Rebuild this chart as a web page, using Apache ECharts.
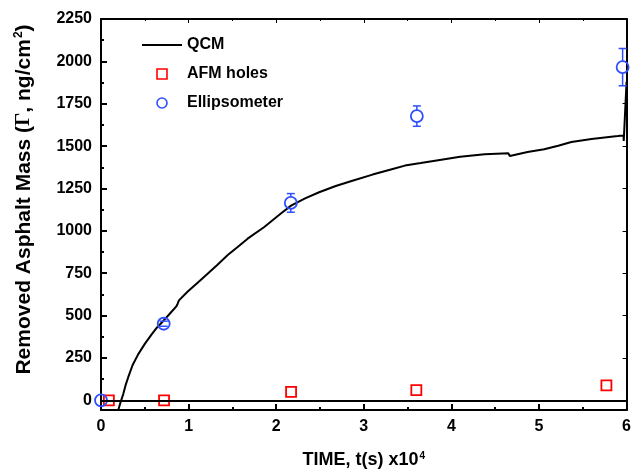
<!DOCTYPE html>
<html>
<head>
<meta charset="utf-8">
<script src="https://cdn.jsdelivr.net/npm/echarts@6/dist/echarts.min.js"></script>
<style>html,body{margin:0;padding:0;background:#fff}#c{width:634px;height:474px}</style>
</head>
<body>
<div id="c"></div>
<script>
// ---- data (time in units of 1e4 s, mass in ng/cm^2) ----
const qcmTime = [0.197, 0.225, 0.254, 0.28, 0.31, 0.36, 0.424, 0.5, 0.576, 0.64, 0.708, 0.78, 0.86, 0.875, 0.89, 0.99, 1.1, 1.22, 1.33, 1.447, 1.56, 1.674, 1.864, 2.05, 2.17, 2.33, 2.49, 2.68, 2.87, 3.1, 3.32, 3.47, 3.65, 3.85, 4.1, 4.38, 4.65, 4.667, 4.68, 4.87, 5.06, 5.22, 5.37, 5.6, 5.90, 5.966, 5.968, 6.0];
const qcmMass = [-57, -8, 37, 88, 135, 207, 271, 333, 388, 430, 467, 508, 554, 570, 590, 642, 693, 749, 800, 857, 905, 954, 1023, 1101, 1149, 1192, 1228, 1265, 1296, 1332, 1364, 1385, 1400, 1417, 1437, 1452, 1458, 1442, 1445, 1465, 1481, 1502, 1524, 1542, 1559, 1563, 1530, 1880];

const afmTime = [0.09, 0.72, 2.17, 3.6, 5.77];
const afmMass = [0, 0, 50, 60, 88];

const ellTime = [0, 0.716, 2.167, 3.606, 5.955];
const ellMass = [0, 452, 1165, 1677, 1966];
const ellErr = [0, 15, 55, 60, 110];

const yMajorTicks = [0, 250, 500, 750, 1000, 1250, 1500, 1750, 2000, 2250];
const yMinorTicks = [125, 375, 625, 875, 1125, 1375, 1625, 1875, 2125];

// ---- build ----
const BLUE = '#2f4fff', RED = '#ff0000';
const FONT = '"Liberation Sans", Arial, sans-serif';
const qcmData = qcmTime.map((t, i) => [t, qcmMass[i]]);
const afmData = afmTime.map((t, i) => [t, afmMass[i]]);
const ellData = ellTime.map((t, i) => [t, ellMass[i]]);
const errData = ellTime.map((t, i) => [t, ellMass[i], ellErr[i]]);
const Y_MIN = -57, Y_MAX = 2250;

const chart = echarts.init(document.getElementById('c'), null, {renderer: 'canvas'});
const axisLine = {show: true, onZero: false, lineStyle: {color: '#000', width: 2}};
chart.setOption({
  animation: false,
  backgroundColor: '#fff',
  grid: {left: 101, right: 4, top: 19, bottom: 61, containLabel: false},
  legend: {
    orient: 'vertical', left: 142, top: 37, padding: 0,
    itemWidth: 40, itemHeight: 10, itemGap: 13, symbolKeepAspect: true,
    textStyle: {fontFamily: FONT, fontWeight: 'bold', fontSize: 16, color: '#000'},
    data: [
      {name: 'QCM', icon: 'path://M0,0H40V2H0Z', itemStyle: {color: '#000', borderWidth: 0}},
      {name: 'AFM holes', icon: 'path://M0,0H10V10H0Z', itemStyle: {color: 'rgba(255,255,255,0)', borderColor: RED, borderWidth: 1.6}},
      {name: 'Ellipsometer', icon: 'circle', itemStyle: {color: 'rgba(255,255,255,0)', borderColor: BLUE, borderWidth: 1.6}}
    ]
  },
  xAxis: [{
    type: 'value', min: 0, max: 6, interval: 1, position: 'bottom',
    axisLine: axisLine,
    axisTick: {show: true, inside: true, length: 6, lineStyle: {color: '#000', width: 2}},
    minorTick: {show: true, splitNumber: 2, length: 3, lineStyle: {color: '#000', width: 2}},
    splitLine: {show: false}, minorSplitLine: {show: false},
    axisLabel: {fontFamily: FONT, fontWeight: 'bold', fontSize: 16, color: '#000', margin: 9},
    name: 'TIME, t(s) x10{s|4}', nameLocation: 'middle', nameGap: 41,
    nameTextStyle: {fontFamily: FONT, fontWeight: 'bold', fontSize: 18, color: '#000',
      rich: {s: {fontFamily: FONT, fontWeight: 'bold', fontSize: 10, color: '#000', verticalAlign: 'top', padding: [0, 0, 8, 1]}}}
  }, {
    type: 'value', min: 0, max: 6, interval: 1, position: 'top',
    axisLine: axisLine,
    axisTick: {show: true, inside: true, length: 4, lineStyle: {color: '#000', width: 1}},
    minorTick: {show: true, splitNumber: 2, length: 2, lineStyle: {color: '#000', width: 1}},
    splitLine: {show: false}, axisLabel: {show: false}
  }],
  yAxis: [{
    type: 'value', min: Y_MIN, max: Y_MAX, position: 'left',
    axisLine: axisLine,
    axisTick: {show: true, inside: true, length: 6, customValues: yMajorTicks, lineStyle: {color: '#000', width: 2}},
    splitLine: {show: false},
    axisLabel: {fontFamily: FONT, fontWeight: 'bold', fontSize: 16, color: '#000', margin: 9,
      customValues: yMajorTicks, formatter: v => String(Math.round(v))},
    name: 'Removed Asphalt Mass ({g|Γ}, ng/cm{s|2})', nameLocation: 'middle', nameGap: 66, nameRotate: 90,
    nameTextStyle: {fontFamily: FONT, fontWeight: 'bold', fontSize: 21, color: '#000', padding: [0, 0, 0, 30],
      rich: {
        g: {fontFamily: '"Liberation Serif", "DejaVu Serif", serif', fontSize: 21, color: '#000'},
        s: {fontFamily: FONT, fontWeight: 'bold', fontSize: 12, color: '#000', verticalAlign: 'top', padding: [0, 0, 10, 1]}
      }}
  }, {
    type: 'value', min: Y_MIN, max: Y_MAX, position: 'left',
    axisLine: {show: false, onZero: false},
    axisTick: {show: true, inside: true, length: 3, customValues: yMinorTicks, lineStyle: {color: '#000', width: 2}},
    splitLine: {show: false}, axisLabel: {show: false}
  }, {
    type: 'value', min: Y_MIN, max: Y_MAX, position: 'right',
    axisLine: axisLine,
    axisTick: {show: true, inside: true, length: 4, customValues: yMajorTicks, lineStyle: {color: '#000', width: 1}},
    splitLine: {show: false}, axisLabel: {show: false}
  }],
  series: [{
    name: 'QCM', type: 'line', data: qcmData, xAxisIndex: 0, yAxisIndex: 0,
    showSymbol: false, symbol: 'none', smooth: false, clip: true,
    lineStyle: {color: '#000', width: 2}, itemStyle: {color: '#000'},
    markLine: {silent: true, symbol: 'none', label: {show: false},
      lineStyle: {color: '#000', width: 2, type: 'solid'}, data: [{yAxis: 0}]},
    z: 3
  }, {
    name: 'AFM holes', type: 'scatter', data: afmData, xAxisIndex: 0, yAxisIndex: 0,
    symbol: 'rect', symbolSize: 10,
    itemStyle: {color: 'rgba(255,255,255,0)', borderColor: RED, borderWidth: 1.8, opacity: 1}, z: 4
  }, {
    name: 'Ellipsometer', type: 'scatter', data: ellData, xAxisIndex: 0, yAxisIndex: 0,
    symbol: 'circle', symbolSize: 12,
    itemStyle: {color: 'rgba(255,255,255,0)', borderColor: BLUE, borderWidth: 1.8, opacity: 1}, z: 4
  }, {
    name: 'Ellipsometer error', type: 'custom', data: errData, xAxisIndex: 0, yAxisIndex: 0,
    encode: {x: 0, y: 1}, z: 4, silent: true,
    renderItem: function (params, api) {
      const x = api.value(0), y = api.value(1), e = api.value(2);
      if (!e) return null;
      const c = api.coord([x, y]);
      const top = api.coord([x, y + e]);
      const bot = api.coord([x, y - e]);
      const r = 6, hw = 4;
      const st = {stroke: BLUE, lineWidth: 1.5};
      const children = [
        {type: 'line', shape: {x1: top[0] - hw, y1: top[1], x2: top[0] + hw, y2: top[1]}, style: st},
        {type: 'line', shape: {x1: bot[0] - hw, y1: bot[1], x2: bot[0] + hw, y2: bot[1]}, style: st}
      ];
      if (c[1] - top[1] > r) {
        children.push({type: 'line', shape: {x1: c[0], y1: top[1], x2: c[0], y2: c[1] - r}, style: st});
        children.push({type: 'line', shape: {x1: c[0], y1: c[1] + r, x2: c[0], y2: bot[1]}, style: st});
      }
      return {type: 'group', children: children};
    }
  }]
});
</script>
</body>
</html>
